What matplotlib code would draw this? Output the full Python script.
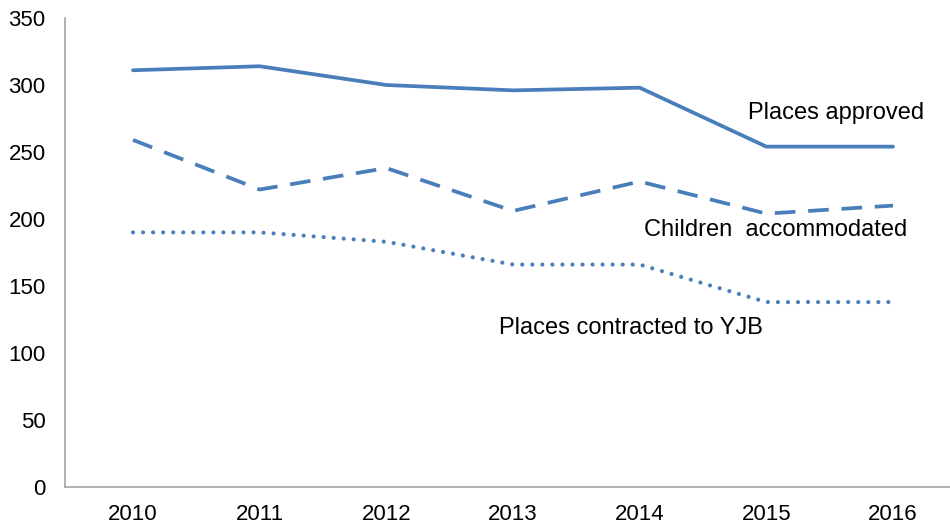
import matplotlib
matplotlib.use("Agg")
import matplotlib.pyplot as plt

# data
years = ["2010", "2011", "2012", "2013", "2014", "2015", "2016"]
places_approved = [311, 314, 300, 296, 298, 254, 254]
children_accommodated = [259, 222, 238, 206, 228, 204, 210]
places_contracted = [190, 190, 183, 166, 166, 138, 138]

plt.rcParams["font.family"] = ["Liberation Sans", "DejaVu Sans"]
blue = "#4a7ebb"

fig = plt.figure(figsize=(9.5, 5.26), dpi=100)
ax = fig.add_axes([65 / 950, 1 - 487 / 526, 885 / 950, 469 / 526])

x = list(range(len(years)))
ax.plot(x, places_approved, color=blue, lw=2.7, solid_capstyle="round")
ax.plot(x, children_accommodated, color=blue, lw=2.7, dashes=(5.5, 3.4),
        dash_capstyle="butt")
ax.plot(x, places_contracted, color=blue, lw=3.0, dashes=(0.01, 2.4),
        dash_capstyle="round")

ax.text(5.55, 279, "Places approved", fontsize=17, ha="center", va="center")
ax.text(5.07, 191.5, "Children  accommodated", fontsize=17, ha="center", va="center")
ax.text(3.93, 119, "Places contracted to YJB", fontsize=17, ha="center", va="center")

ax.set_xlim((65 - 133) / 126.67, (950 - 133) / 126.67)
ax.set_ylim(0, 350)
ax.set_xticks(x)
ax.set_xticklabels(years)
ax.set_yticks(range(0, 351, 50))
ax.tick_params(length=0, labelsize=16)
ax.tick_params(axis="y", pad=14)
ax.tick_params(axis="x", pad=12)

for s in ["top", "right"]:
    ax.spines[s].set_visible(False)
for s in ["left", "bottom"]:
    ax.spines[s].set_color("#a6a6a6")
    ax.spines[s].set_linewidth(1.2)

fig.savefig("out.png", dpi=100)
